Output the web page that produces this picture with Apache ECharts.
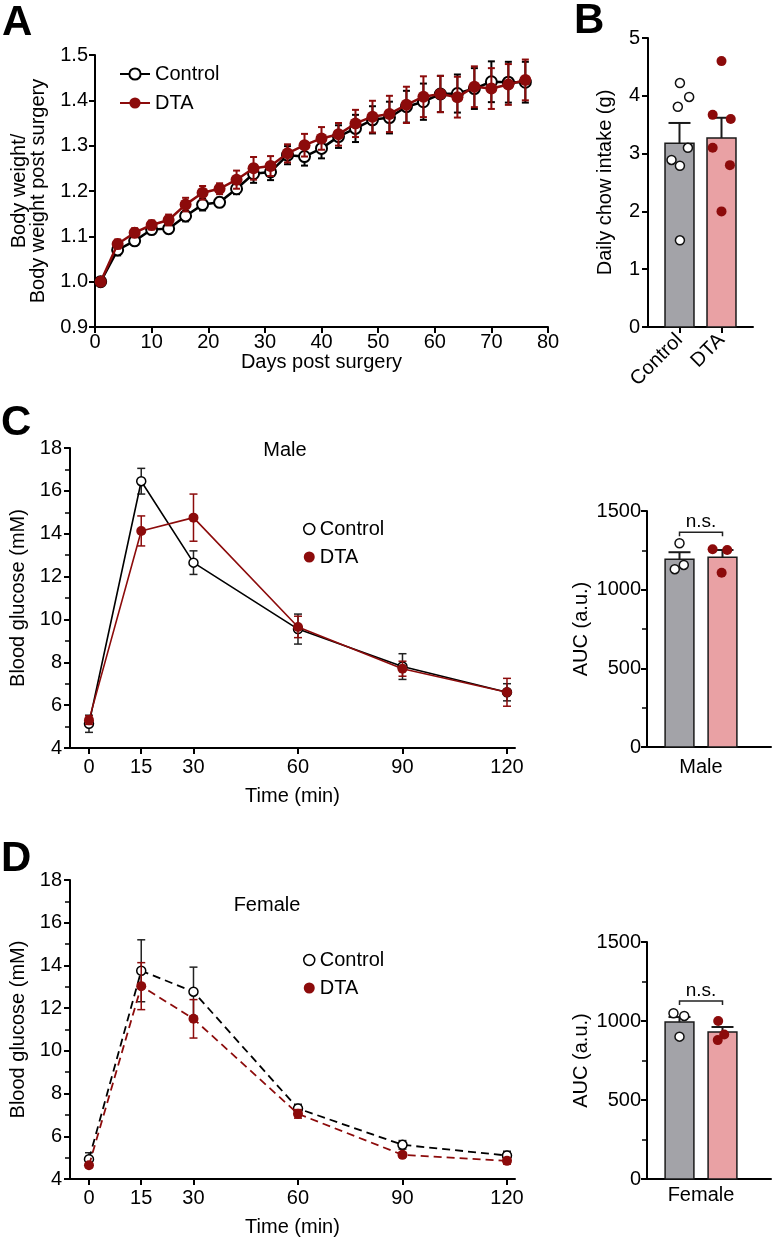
<!DOCTYPE html>
<html>
<head>
<meta charset="utf-8">
<script src="https://cdn.jsdelivr.net/npm/echarts@6/dist/echarts.min.js"></script>
<style>
  html, body { margin: 0; padding: 0; background: #fff; }
  #main { width: 773px; height: 1240px; }
</style>
</head>
<body>
<div id="main"></div>
<script>
// A - body weight relative to post-surgery weight
const daysA = [1, 4, 7, 10, 13, 16, 19, 22, 25, 28, 31, 34, 37, 40, 43, 46, 49, 52, 55, 58, 61, 64, 67, 70, 73, 76];
const ctrlA = [1.0, 1.07, 1.09, 1.115, 1.117, 1.145, 1.17, 1.175, 1.205, 1.238, 1.242, 1.279, 1.276, 1.294, 1.32, 1.338, 1.357, 1.362, 1.386, 1.397, 1.414, 1.415, 1.426, 1.441, 1.44, 1.44];
const ctrlAErr = [0, 0.012, 0.008, 0.01, 0.01, 0.012, 0.013, 0.01, 0.012, 0.02, 0.018, 0.02, 0.02, 0.022, 0.025, 0.03, 0.03, 0.035, 0.035, 0.04, 0.04, 0.042, 0.045, 0.045, 0.045, 0.045];
const dtaA = [1.0, 1.083, 1.108, 1.125, 1.136, 1.17, 1.196, 1.205, 1.225, 1.25, 1.255, 1.283, 1.301, 1.316, 1.325, 1.349, 1.364, 1.37, 1.39, 1.408, 1.414, 1.407, 1.43, 1.426, 1.435, 1.445];
const dtaAErr = [0, 0.01, 0.01, 0.01, 0.012, 0.015, 0.015, 0.012, 0.02, 0.025, 0.022, 0.02, 0.025, 0.025, 0.025, 0.03, 0.035, 0.04, 0.04, 0.045, 0.04, 0.045, 0.045, 0.045, 0.045, 0.045];

// B - daily chow intake
const groups = ['Control', 'DTA'];
const chowCtrl = [3.81, 4.22, 3.98, 2.89, 2.79, 3.1, 1.5];
const chowCtrlJit = [-0.04, 0.01, 0.23, -0.19, 0.01, 0.2, 0.01];
const chowDta = [4.6, 3.67, 3.6, 3.1, 2.8, 2.0];
const chowDtaJit = [0, -0.21, 0.22, -0.21, 0.2, 0];
const chowMean = [3.18, 3.27];
const chowSem = [0.35, 0.35];

// C / D - glucose tolerance
const timeMin = [0, 15, 30, 60, 90, 120];
const maleCtrl = [5.13, 16.45, 12.65, 9.55, 7.8, 6.6];
const maleCtrlErr = [0.4, 0.6, 0.55, 0.7, 0.6, 0.4];
const maleDta = [5.3, 14.13, 14.75, 9.65, 7.7, 6.6];
const maleDtaErr = [0.2, 0.7, 1.1, 0.5, 0.35, 0.65];
const femCtrl = [4.93, 13.75, 12.77, 7.3, 5.6, 5.1];
const femCtrlErr = [0.3, 1.45, 1.15, 0.2, 0.2, 0.2];
const femDta = [4.64, 13.03, 11.5, 7.05, 5.13, 4.85];
const femDtaErr = [0.1, 1.1, 0.9, 0.2, 0.1, 0.15];

// AUC
const aucMaleCtrl = [1295, 1130, 1157];
const aucMaleCtrlJit = [0, -0.11, 0.1];
const aucMaleDta = [1257, 1252, 1108];
const aucMaleDtaJit = [-0.23, 0.11, -0.02];
const aucMaleMean = [1193, 1206];
const aucMaleSem = [45, 46];
const aucFemCtrl = [1049, 1032, 901];
const aucFemCtrlJit = [-0.14, 0.11, 0];
const aucFemDta = [1000, 915, 879];
const aucFemDtaJit = [-0.1, 0.04, -0.11];
const aucFemMean = [993, 930];
const aucFemSem = [32, 32];

const RED = '#8c0b0b';
const GREY_BAR = '#a3a3a8';
const PINK_BAR = '#e9a1a4';
const FONT = 'Liberation Sans';

function errRender(capW, lw) {
  return function (params, api) {
    const x = api.value(0);
    const lo = api.coord([x, api.value(1)]);
    const hi = api.coord([x, api.value(2)]);
    const style = { stroke: api.visual('color'), lineWidth: lw };
    return {
      type: 'group',
      children: [
        { type: 'line', shape: { x1: lo[0], y1: lo[1], x2: hi[0], y2: hi[1] }, style: style },
        { type: 'line', shape: { x1: hi[0] - capW / 2, y1: hi[1], x2: hi[0] + capW / 2, y2: hi[1] }, style: style },
        { type: 'line', shape: { x1: lo[0] - capW / 2, y1: lo[1], x2: lo[0] + capW / 2, y2: lo[1] }, style: style }
      ]
    };
  };
}

function barRender(bw, capW) {
  return function (params, api) {
    const x = api.value(0), m = api.value(1), s = api.value(2);
    const base = api.coord([x, 0]);
    const top = api.coord([x, m]);
    const sTop = api.coord([x, m + s]);
    const w = api.size([bw, 0])[0];
    const ls = { stroke: '#1a1a1a', lineWidth: 2 };
    return {
      type: 'group',
      children: [
        { type: 'rect', shape: { x: base[0] - w / 2, y: top[1], width: w, height: base[1] - top[1] },
          style: { fill: api.visual('color'), stroke: '#1a1a1a', lineWidth: 1.5 } },
        { type: 'line', shape: { x1: top[0], y1: top[1], x2: sTop[0], y2: sTop[1] }, style: ls },
        { type: 'line', shape: { x1: sTop[0] - capW / 2, y1: sTop[1], x2: sTop[0] + capW / 2, y2: sTop[1] }, style: ls }
      ]
    };
  };
}

function bracketRender(params, api) {
  const a = api.coord([api.value(0), api.value(2)]);
  const b = api.coord([api.value(1), api.value(2)]);
  return {
    type: 'group',
    children: [
      { type: 'polyline', shape: { points: [[a[0], a[1] + 4], a, b, [b[0], b[1] + 4]] },
        style: { stroke: '#222', lineWidth: 1.5, fill: null } },
      { type: 'text', x: (a[0] + b[0]) / 2, y: a[1] - 1,
        style: { text: 'n.s.', fill: '#000', font: '19px ' + FONT, align: 'center', verticalAlign: 'bottom' } }
    ]
  };
}

const errRows = (xs, v, e) => xs.map((x, i) => [x, v[i] - e[i], v[i] + e[i]]);
const pts = (xs, v) => xs.map((x, i) => [x, v[i]]);

const lineAx = { show: true, onZero: false, lineStyle: { color: '#000', width: 2 } };
const tickAx = { show: true, length: 6, lineStyle: { color: '#000', width: 2 } };
const minorAx = { show: true, splitNumber: 2, length: 5, lineStyle: { color: '#000', width: 1.5 } };
const lbl = { color: '#000', fontSize: 20, fontFamily: FONT };
const nameTs = { color: '#000', fontSize: 20, fontFamily: FONT };

let chartDom = document.getElementById('main');
let myChart = echarts.init(chartDom);
let option;

option = {
  backgroundColor: '#fff',
  animation: false,
  textStyle: { fontFamily: FONT },
  grid: [
    { left: 95, top: 55, width: 453, height: 272 },
    { left: 648, top: 38, width: 105, height: 289 },
    { left: 70, top: 448, width: 445, height: 300 },
    { left: 647, top: 511, width: 124, height: 236 },
    { left: 70, top: 880, width: 445, height: 299 },
    { left: 647, top: 942, width: 124, height: 237 }
  ],
  xAxis: [
    { gridIndex: 0, type: 'value', min: 0, max: 80, interval: 10,
      axisLine: lineAx, axisTick: tickAx, axisLabel: Object.assign({ margin: 5 }, lbl), splitLine: { show: false },
      name: 'Days post surgery', nameLocation: 'middle', nameGap: 12, nameTextStyle: nameTs },
    { gridIndex: 1, type: 'value', min: -0.75, max: 1.75,
      axisLine: lineAx, axisTick: Object.assign({}, tickAx, { customValues: [0, 1] }),
      axisLabel: Object.assign({ customValues: [0, 1], rotate: 45, margin: 10, formatter: v => groups[Math.round(v)] }, lbl),
      splitLine: { show: false } },
    { gridIndex: 2, type: 'value', min: -5.45, max: 122.3,
      axisLine: lineAx, axisTick: Object.assign({}, tickAx, { customValues: timeMin }),
      axisLabel: Object.assign({ customValues: timeMin, margin: 9 }, lbl), splitLine: { show: false },
      name: 'Time (min)', nameLocation: 'middle', nameGap: 38, nameTextStyle: nameTs },
    { gridIndex: 3, type: 'value', min: -0.756, max: 2.128,
      axisLine: lineAx, axisTick: { show: false },
      axisLabel: Object.assign({ customValues: [0.5], margin: 10, formatter: () => 'Male' }, lbl),
      splitLine: { show: false } },
    { gridIndex: 4, type: 'value', min: -5.45, max: 122.3,
      axisLine: lineAx, axisTick: Object.assign({}, tickAx, { customValues: timeMin }),
      axisLabel: Object.assign({ customValues: timeMin, margin: 9 }, lbl), splitLine: { show: false },
      name: 'Time (min)', nameLocation: 'middle', nameGap: 38, nameTextStyle: nameTs },
    { gridIndex: 5, type: 'value', min: -0.756, max: 2.128,
      axisLine: lineAx, axisTick: { show: false },
      axisLabel: Object.assign({ customValues: [0.5], margin: 6, formatter: () => 'Female' }, lbl),
      splitLine: { show: false } }
  ],
  yAxis: [
    { gridIndex: 0, type: 'value', min: 0.9, max: 1.5, interval: 0.1,
      axisLine: lineAx, axisTick: tickAx, axisLabel: Object.assign({ margin: 7, formatter: v => v.toFixed(1) }, lbl),
      splitLine: { show: false },
      name: 'Body weight/\nBody weight post surgery', nameLocation: 'middle', nameGap: 47,
      nameTextStyle: Object.assign({ lineHeight: 19 }, nameTs) },
    { gridIndex: 1, type: 'value', min: 0, max: 5, interval: 1,
      axisLine: lineAx, axisTick: tickAx, axisLabel: Object.assign({ margin: 8 }, lbl), splitLine: { show: false },
      name: 'Daily chow intake (g)', nameLocation: 'middle', nameGap: 33, nameTextStyle: nameTs },
    { gridIndex: 2, type: 'value', min: 4, max: 18, interval: 2,
      axisLine: lineAx, axisTick: tickAx, minorTick: minorAx,
      axisLabel: Object.assign({ margin: 8 }, lbl), splitLine: { show: false },
      name: 'Blood glucose (mM)', nameLocation: 'middle', nameGap: 42, nameTextStyle: nameTs },
    { gridIndex: 3, type: 'value', min: 0, max: 1500, interval: 500,
      axisLine: lineAx, axisTick: tickAx, minorTick: minorAx,
      axisLabel: Object.assign({ margin: 6, formatter: v => String(v) }, lbl), splitLine: { show: false },
      name: 'AUC (a.u.)', nameLocation: 'middle', nameGap: 56, nameTextStyle: nameTs },
    { gridIndex: 4, type: 'value', min: 4, max: 18, interval: 2,
      axisLine: lineAx, axisTick: tickAx, minorTick: minorAx,
      axisLabel: Object.assign({ margin: 8 }, lbl), splitLine: { show: false },
      name: 'Blood glucose (mM)', nameLocation: 'middle', nameGap: 42, nameTextStyle: nameTs },
    { gridIndex: 5, type: 'value', min: 0, max: 1500, interval: 500,
      axisLine: lineAx, axisTick: tickAx, minorTick: minorAx,
      axisLabel: Object.assign({ margin: 6, formatter: v => String(v) }, lbl), splitLine: { show: false },
      name: 'AUC (a.u.)', nameLocation: 'middle', nameGap: 56, nameTextStyle: nameTs }
  ],
  legend: [
    { left: 114, top: 59, orient: 'vertical', itemGap: 9, itemWidth: 30, itemHeight: 14,
      textStyle: { fontSize: 20, color: '#000' }, data: ['Control', 'DTA'] },
    { left: 298, top: 514, orient: 'vertical', itemGap: 8, itemWidth: 11, itemHeight: 11,
      textStyle: { fontSize: 20, color: '#000' },
      data: [
        { name: 'Control', icon: 'circle', itemStyle: { color: '#fff', borderColor: '#000', borderWidth: 1.5 } },
        { name: 'DTA', icon: 'circle', itemStyle: { color: RED, borderWidth: 0 } }
      ] },
    { left: 298, top: 945, orient: 'vertical', itemGap: 8, itemWidth: 11, itemHeight: 11,
      textStyle: { fontSize: 20, color: '#000' },
      data: [
        { name: 'Control', icon: 'circle', itemStyle: { color: '#fff', borderColor: '#000', borderWidth: 1.5 } },
        { name: 'DTA', icon: 'circle', itemStyle: { color: RED, borderWidth: 0 } }
      ] }
  ],
  graphic: [
    { type: 'text', left: 2, top: 2, style: { text: 'A', font: 'bold 42px ' + FONT, fill: '#000' } },
    { type: 'text', left: 574, top: 0, style: { text: 'B', font: 'bold 42px ' + FONT, fill: '#000' } },
    { type: 'text', left: 1, top: 402, style: { text: 'C', font: 'bold 42px ' + FONT, fill: '#000' } },
    { type: 'text', left: 1, top: 838, style: { text: 'D', font: 'bold 42px ' + FONT, fill: '#000' } },
    { type: 'text', x: 285, y: 450, style: { text: 'Male', font: '20px ' + FONT, fill: '#000', align: 'center', verticalAlign: 'middle' } },
    { type: 'text', x: 267, y: 905, style: { text: 'Female', font: '20px ' + FONT, fill: '#000', align: 'center', verticalAlign: 'middle' } }
  ],
  series: [
    // A
    { type: 'custom', xAxisIndex: 0, yAxisIndex: 0, renderItem: errRender(7, 2), itemStyle: { color: '#000' },
      data: errRows(daysA, ctrlA, ctrlAErr), silent: true, z: 2 },
    { name: 'Control', type: 'line', xAxisIndex: 0, yAxisIndex: 0, data: pts(daysA, ctrlA),
      symbol: 'circle', symbolSize: 11, lineStyle: { color: '#000', width: 2.5 },
      itemStyle: { color: '#fff', borderColor: '#000', borderWidth: 2 }, z: 3 },
    { type: 'custom', xAxisIndex: 0, yAxisIndex: 0, renderItem: errRender(7, 2), itemStyle: { color: RED },
      data: errRows(daysA, dtaA, dtaAErr), silent: true, z: 4 },
    { name: 'DTA', type: 'line', xAxisIndex: 0, yAxisIndex: 0, data: pts(daysA, dtaA),
      symbol: 'circle', symbolSize: 12, lineStyle: { color: RED, width: 2.5 },
      itemStyle: { color: RED, borderColor: RED, borderWidth: 0 }, z: 5 },
    // B
    { type: 'custom', xAxisIndex: 1, yAxisIndex: 1, renderItem: barRender(0.69, 22),
      data: [
        { value: [0, chowMean[0], chowSem[0]], itemStyle: { color: GREY_BAR } },
        { value: [1, chowMean[1], chowSem[1]], itemStyle: { color: PINK_BAR } }
      ], z: 2 },
    { type: 'scatter', xAxisIndex: 1, yAxisIndex: 1, symbolSize: 9,
      itemStyle: { color: '#fff', borderColor: '#111', borderWidth: 1.5, opacity: 1 },
      data: chowCtrl.map((v, i) => [0 + chowCtrlJit[i], v]), z: 3 },
    { type: 'scatter', xAxisIndex: 1, yAxisIndex: 1, symbolSize: 10,
      itemStyle: { color: RED, opacity: 1 },
      data: chowDta.map((v, i) => [1 + chowDtaJit[i], v]), z: 3 },
    // C
    { type: 'custom', xAxisIndex: 2, yAxisIndex: 2, renderItem: errRender(8, 1.5), itemStyle: { color: '#222' },
      data: errRows(timeMin, maleCtrl, maleCtrlErr), silent: true, z: 2 },
    { name: 'Control', type: 'line', xAxisIndex: 2, yAxisIndex: 2, data: pts(timeMin, maleCtrl),
      symbol: 'circle', symbolSize: 9, lineStyle: { color: '#000', width: 1.6 },
      itemStyle: { color: '#fff', borderColor: '#000', borderWidth: 1.5 }, z: 3 },
    { type: 'custom', xAxisIndex: 2, yAxisIndex: 2, renderItem: errRender(8, 1.5), itemStyle: { color: RED },
      data: errRows(timeMin, maleDta, maleDtaErr), silent: true, z: 4 },
    { name: 'DTA', type: 'line', xAxisIndex: 2, yAxisIndex: 2, data: pts(timeMin, maleDta),
      symbol: 'circle', symbolSize: 10, lineStyle: { color: RED, width: 1.6 },
      itemStyle: { color: RED, borderWidth: 0 }, z: 5 },
    // C AUC
    { type: 'custom', xAxisIndex: 3, yAxisIndex: 3, renderItem: barRender(0.67, 22),
      data: [
        { value: [0, aucMaleMean[0], aucMaleSem[0]], itemStyle: { color: GREY_BAR } },
        { value: [1, aucMaleMean[1], aucMaleSem[1]], itemStyle: { color: PINK_BAR } }
      ], z: 2 },
    { type: 'scatter', xAxisIndex: 3, yAxisIndex: 3, symbolSize: 9,
      itemStyle: { color: '#fff', borderColor: '#111', borderWidth: 1.5, opacity: 1 },
      data: aucMaleCtrl.map((v, i) => [0 + aucMaleCtrlJit[i], v]), z: 3 },
    { type: 'scatter', xAxisIndex: 3, yAxisIndex: 3, symbolSize: 10,
      itemStyle: { color: RED, opacity: 1 },
      data: aucMaleDta.map((v, i) => [1 + aucMaleDtaJit[i], v]), z: 3 },
    { type: 'custom', xAxisIndex: 3, yAxisIndex: 3, renderItem: bracketRender, data: [[0, 1, 1365]], silent: true, z: 3 },
    // D
    { type: 'custom', xAxisIndex: 4, yAxisIndex: 4, renderItem: errRender(8, 1.5), itemStyle: { color: '#222' },
      data: errRows(timeMin, femCtrl, femCtrlErr), silent: true, z: 2 },
    { name: 'Control', type: 'line', xAxisIndex: 4, yAxisIndex: 4, data: pts(timeMin, femCtrl),
      symbol: 'circle', symbolSize: 9, lineStyle: { color: '#000', width: 1.8, type: [8, 5] },
      itemStyle: { color: '#fff', borderColor: '#000', borderWidth: 1.5 }, z: 3 },
    { type: 'custom', xAxisIndex: 4, yAxisIndex: 4, renderItem: errRender(8, 1.5), itemStyle: { color: RED },
      data: errRows(timeMin, femDta, femDtaErr), silent: true, z: 4 },
    { name: 'DTA', type: 'line', xAxisIndex: 4, yAxisIndex: 4, data: pts(timeMin, femDta),
      symbol: 'circle', symbolSize: 10, lineStyle: { color: RED, width: 1.8, type: [8, 5] },
      itemStyle: { color: RED, borderWidth: 0 }, z: 5 },
    // D AUC
    { type: 'custom', xAxisIndex: 5, yAxisIndex: 5, renderItem: barRender(0.67, 22),
      data: [
        { value: [0, aucFemMean[0], aucFemSem[0]], itemStyle: { color: GREY_BAR } },
        { value: [1, aucFemMean[1], aucFemSem[1]], itemStyle: { color: PINK_BAR } }
      ], z: 2 },
    { type: 'scatter', xAxisIndex: 5, yAxisIndex: 5, symbolSize: 9,
      itemStyle: { color: '#fff', borderColor: '#111', borderWidth: 1.5, opacity: 1 },
      data: aucFemCtrl.map((v, i) => [0 + aucFemCtrlJit[i], v]), z: 3 },
    { type: 'scatter', xAxisIndex: 5, yAxisIndex: 5, symbolSize: 10,
      itemStyle: { color: RED, opacity: 1 },
      data: aucFemDta.map((v, i) => [1 + aucFemDtaJit[i], v]), z: 3 },
    { type: 'custom', xAxisIndex: 5, yAxisIndex: 5, renderItem: bracketRender, data: [[0, 1, 1127]], silent: true, z: 3 }
  ]
};

option && myChart.setOption(option);
</script>
</body>
</html>
